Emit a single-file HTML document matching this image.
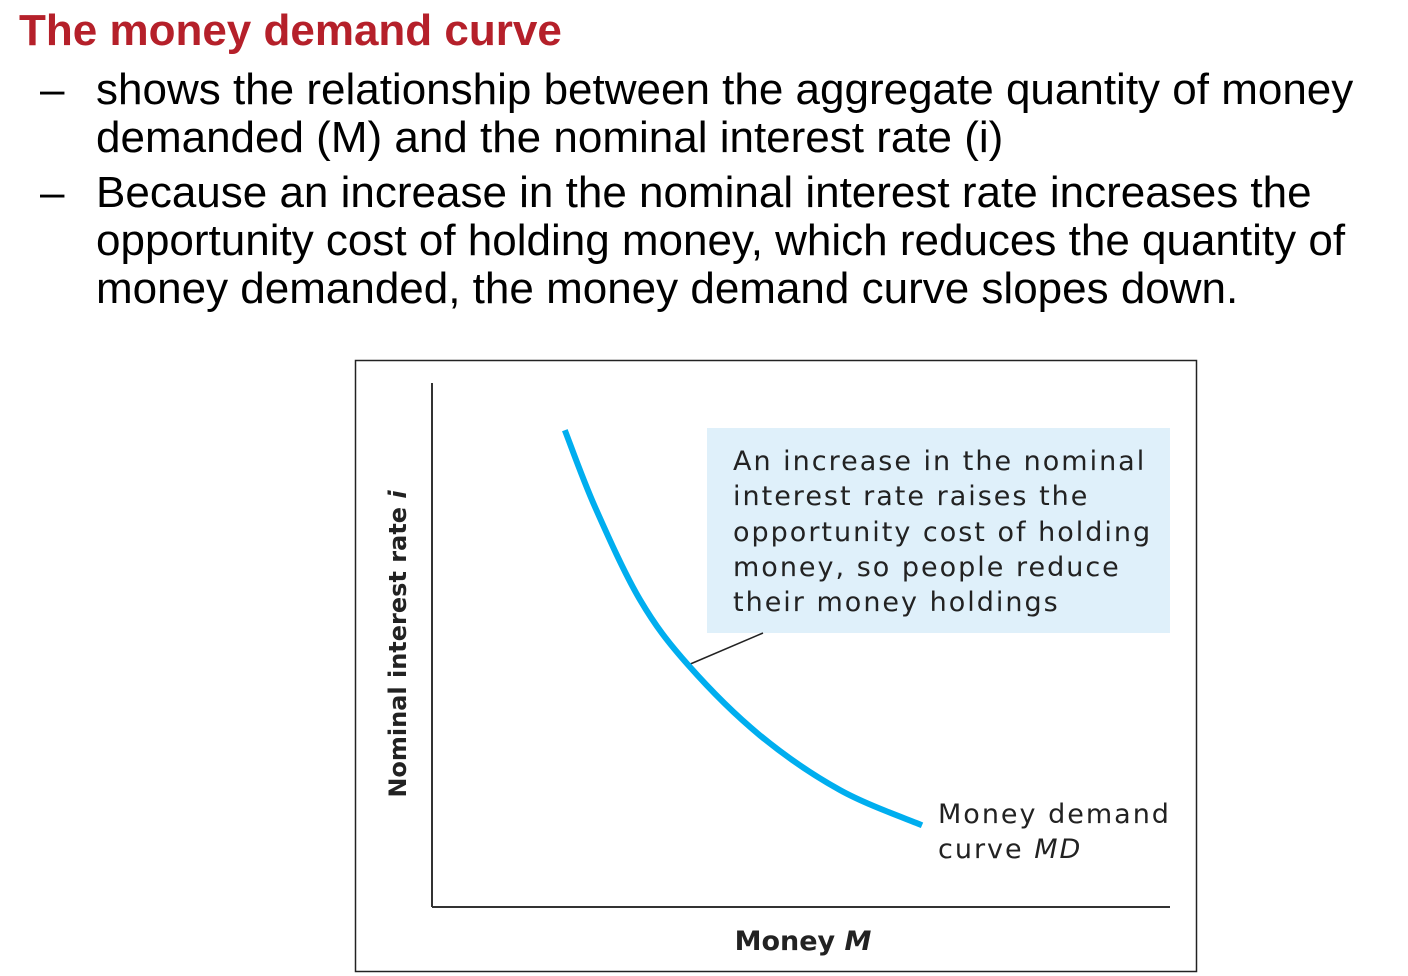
<!DOCTYPE html>
<html><head><meta charset="utf-8"><style>
body{margin:0;width:1408px;height:976px;background:#fff;position:relative;overflow:hidden;font-family:"Liberation Sans",sans-serif}
.t{position:absolute;left:19px;top:6px;font-size:44px;font-weight:bold;color:#b5202a}
.b{position:absolute;left:96px;font-size:44px;color:#000;line-height:48px}
.d{position:absolute;left:40px;font-size:44px;line-height:48px}
</style></head><body>
<div class="t">The money demand curve</div>
<div class="d" style="top:66px">–</div>
<div class="b" style="top:66px">shows the relationship between the aggregate quantity of money<br>demanded (M) and the nominal interest rate (i)</div>
<div class="d" style="top:169px">–</div>
<div class="b" style="top:169px">Because an increase in the nominal interest rate increases the<br>opportunity cost of holding money, which reduces the quantity of<br>money demanded, the money demand curve slopes down.</div>
<svg width="1408" height="976" style="position:absolute;left:0;top:0">
<rect x="355.5" y="360.5" width="841" height="611" fill="none" stroke="#222" stroke-width="1.5"/>
<line x1="432" y1="383" x2="432" y2="907" stroke="#333" stroke-width="2"/>
<line x1="432" y1="907" x2="1170" y2="907" stroke="#333" stroke-width="2"/>
<rect x="707" y="428" width="463" height="205" fill="#dff0fa"/>
<g font-family="DejaVu Sans, sans-serif" font-size="27" fill="#222" letter-spacing="2">
<text x="733" y="470">An increase in the nominal</text>
<text x="733" y="505">interest rate raises the</text>
<text x="733" y="541">opportunity cost of holding</text>
<text x="733" y="576">money, so people reduce</text>
<text x="733" y="611">their money holdings</text>
</g>
<line x1="688" y1="665" x2="763" y2="633" stroke="#222" stroke-width="1.5"/>
<path id="curve" fill="none" stroke="#00aeef" stroke-width="6"/>
<g font-family="DejaVu Sans, sans-serif" font-size="27" fill="#222" letter-spacing="2">
<text x="938" y="823">Money demand</text>
<text x="938" y="858">curve <tspan font-style="italic">MD</tspan></text>
</g>
<text x="803" y="950" text-anchor="middle" font-family="DejaVu Sans, sans-serif" font-weight="bold" font-size="27" fill="#222">Money <tspan font-style="italic">M</tspan></text>
<text transform="translate(406,644) rotate(-90)" text-anchor="middle" font-family="DejaVu Sans, sans-serif" font-weight="bold" font-size="24" fill="#222">Nominal interest rate <tspan font-style="italic">i</tspan></text>
</svg>
<script>
const moneyM=[18.0,22.1,28.2,34.7,44.4,55.3,66.4];
const rateI=[91.0,76.3,58.6,46.2,32.8,22.3,15.6];
function sx(v){return 432+v*7.38;}
function sy(v){return 907-v*5.24;}
const p=moneyM.map((m,i)=>[sx(m),sy(rateI[i])]);
let d='M'+p[0][0]+','+p[0][1];
for(let i=0;i<p.length-1;i++){
const p0=p[i-1]||p[i],p1=p[i],p2=p[i+1],p3=p[i+2]||p2;
const c1=[p1[0]+(p2[0]-p0[0])/6,p1[1]+(p2[1]-p0[1])/6];
const c2=[p2[0]-(p3[0]-p1[0])/6,p2[1]-(p3[1]-p1[1])/6];
d+=' C'+c1+' '+c2+' '+p2;
}
document.getElementById('curve').setAttribute('d',d);
</script>
</body></html>
